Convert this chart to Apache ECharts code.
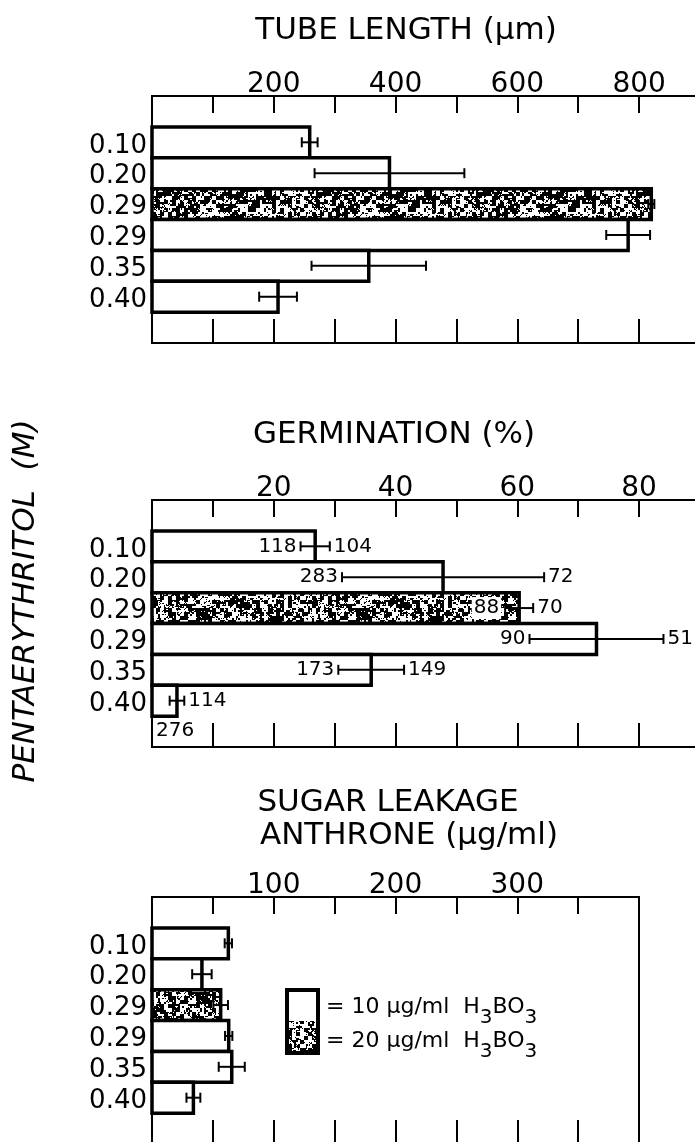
<!DOCTYPE html>
<html>
<head>
<meta charset="utf-8">
<script src="https://cdn.jsdelivr.net/npm/echarts@6/dist/echarts.min.js"></script>
<style>html,body{margin:0;padding:0;background:#fff;}</style>
</head>
<body>
<div id="main" style="width:695px;height:1142px;"></div>
<script type="text/javascript">
// pentaerythritol rows, top to bottom
var rowLabels = ['0.10', '0.20', '0.29', '0.29', '0.35', '0.40'];
// H3BO3 level of each row (ug/ml); 20 = stippled bar
var boron = [10, 10, 20, 10, 10, 10];

var tubeLength = [259, 390, 820, 782, 356, 207];
var tubeErr = [13, 123, 5, 36, 94, 31];

var germination = [26.8, 47.8, 60.3, 73.0, 36.0, 4.1];
var germErr = [2.4, 16.6, 2.3, 11.0, 5.4, 1.2];
var germLeftNum = ['118', '283', '88', '90', '173', '276'];
var germRightNum = ['104', '72', '70', '51', '149', '114'];

var sugar = [62.7, 41.0, 56.4, 63.0, 65.5, 34.0];
var sugarErr = [3, 8, 6, 3, 10.7, 5.7];

var tubeTicks = [200, 400, 600, 800];
var germTicks = [20, 40, 60, 80];
var sugarTicks = [100, 200, 300];

var FONT = 'DejaVu Sans';

// one empty slot above and below the six bars
var slotLabels = [''].concat(rowLabels, ['']);
var slotKeys = slotLabels.map(function (s, i) { return 'c' + i; });

// stipple texture for the 20 ug/ml bars
function makeStipple() {
    var W = 160, H = 64;
    var c = document.createElement('canvas');
    c.width = W; c.height = H;
    var ctx = c.getContext('2d');
    var seed = 9876;
    function rnd() { seed = (seed * 16807) % 2147483647; return seed / 2147483647; }
    var cw = W / 4, ch = H / 4, fw = W / 2, fh = H / 2;
    var coarse = [], fine = [];
    for (var i = 0; i < cw * ch; i++) coarse.push(rnd());
    for (var j = 0; j < fw * fh; j++) fine.push(rnd());
    var img = ctx.createImageData(W, H);
    for (var y = 0; y < H; y++) {
        for (var x = 0; x < W; x++) {
            var v = 0.5 * coarse[Math.floor(y / 4) * cw + Math.floor(x / 4)] +
                    0.35 * fine[Math.floor(y / 2) * fw + Math.floor(x / 2)] + 0.15 * rnd();
            var w = v > 0.55 ? 255 : 0;
            var p = (y * W + x) * 4;
            img.data[p] = w; img.data[p + 1] = w; img.data[p + 2] = w; img.data[p + 3] = 255;
        }
    }
    ctx.putImageData(img, 0, 0);
    return c;
}
var stipple = {image: makeStipple(), repeat: 'repeat'};

var measureCtx = document.createElement('canvas').getContext('2d');
function textWidth(t, size) {
    measureCtx.font = size + 'px "' + FONT + '"';
    return measureCtx.measureText(t).width;
}

function xAxes(gi, max, interval, labels) {
    return [{
        type: 'value', gridIndex: gi, position: 'top', min: 0, max: max, interval: interval,
        axisLine: {show: false}, splitLine: {show: false},
        axisTick: {show: true, inside: true, length: 17, lineStyle: {color: '#000', width: 2}},
        axisLabel: {
            margin: -3, fontSize: 28, fontFamily: FONT, color: '#000',
            formatter: function (v) { return labels.indexOf(v) >= 0 ? String(v) : ''; }
        }
    }, {
        type: 'value', gridIndex: gi, position: 'bottom', min: 0, max: max, interval: interval,
        axisLine: {show: false}, splitLine: {show: false},
        axisTick: {show: true, inside: true, length: 24, lineStyle: {color: '#000', width: 2}},
        axisLabel: {show: false}
    }];
}

function yAxis(gi) {
    return {
        type: 'category', gridIndex: gi, inverse: true, data: slotKeys,
        axisLine: {show: false}, axisTick: {show: false}, splitLine: {show: false},
        axisLabel: {
            interval: 0, margin: 5, fontSize: 26, fontFamily: FONT, color: '#000',
            verticalAlign: 'top', lineHeight: 7,
            formatter: function (v, i) { return slotLabels[i]; }
        }
    };
}

// bars drawn edge to edge so neighbouring rows share one thick border
function barSeries(gi, values) {
    var data = values.map(function (v, i) { return [v, i + 1]; });
    return {
        type: 'custom', xAxisIndex: gi * 2, yAxisIndex: gi, silent: true, z: 2,
        data: data,
        renderItem: function (params, api) {
            var i = params.dataIndex;
            var p0 = api.coord([0, api.value(1)]);
            var p1 = api.coord([api.value(0), api.value(1)]);
            var band = api.size([0, 1])[1];
            return {
                type: 'rect',
                shape: {x: p0[0], y: p0[1] - band / 2, width: p1[0] - p0[0], height: band},
                style: {fill: boron[i] === 20 ? stipple : '#fff', stroke: '#000', lineWidth: 3.5}
            };
        }
    };
}

function errSeries(gi, values, errs, leftTxt, rightTxt) {
    var data = values.map(function (v, i) { return [v, i + 1, errs[i]]; });
    var f = '20px "' + FONT + '"';
    return {
        type: 'custom', xAxisIndex: gi * 2, yAxisIndex: gi, silent: true, z: 5,
        data: data,
        renderItem: function (params, api) {
            var i = params.dataIndex;
            var v = api.value(0), idx = api.value(1), e = api.value(2);
            var lo = api.coord([v - e, idx]);
            var hi = api.coord([v + e, idx]);
            var y = lo[1];
            var band = api.size([0, 1])[1];
            var cs = params.coordSys;
            var ln = {stroke: '#000', lineWidth: 2};
            var kids = [
                {type: 'line', shape: {x1: lo[0], y1: y, x2: hi[0], y2: y}, style: ln},
                {type: 'line', shape: {x1: lo[0], y1: y - 5, x2: lo[0], y2: y + 5}, style: ln},
                {type: 'line', shape: {x1: hi[0], y1: y - 5, x2: hi[0], y2: y + 5}, style: ln}
            ];
            if (leftTxt) {
                var lt = leftTxt[i];
                var w = textWidth(lt, 20);
                if (lo[0] - 4 - w > cs.x + 4) {
                    kids.push({type: 'text', style: {
                        text: lt, x: lo[0] - 4, y: y, align: 'right', verticalAlign: 'middle',
                        font: f, fill: '#000',
                        backgroundColor: boron[i] === 20 ? '#fff' : null,
                        padding: boron[i] === 20 ? [1, 2, 1, 2] : 0
                    }});
                } else {
                    // no room left of the bar: number goes under it
                    kids.push({type: 'text', style: {
                        text: lt, x: cs.x + 4, y: y + band / 2 + 15, align: 'left', verticalAlign: 'middle',
                        font: f, fill: '#000'
                    }});
                }
            }
            if (rightTxt) {
                kids.push({type: 'text', style: {
                    text: rightTxt[i], x: hi[0] + 4, y: y, align: 'left', verticalAlign: 'middle',
                    font: f, fill: '#000'
                }});
            }
            return {type: 'group', children: kids};
        }
    };
}

var gridBase = {show: true, borderColor: '#000', borderWidth: 2, backgroundColor: '#fff', outerBoundsMode: 'none', containLabel: false};

var myChart = echarts.init(document.getElementById('main'), null, {renderer: 'canvas'});

var option = {
    animation: false,
    backgroundColor: '#fff',
    grid: [
        Object.assign({left: 152, top: 96, width: 548, height: 247}, gridBase),
        Object.assign({left: 152, top: 500, width: 548, height: 247}, gridBase),
        Object.assign({left: 152, top: 897, width: 487, height: 247}, gridBase)
    ],
    xAxis: [].concat(
        xAxes(0, 900, 100, tubeTicks),
        xAxes(1, 90, 10, germTicks),
        xAxes(2, 400, 50, sugarTicks)
    ),
    yAxis: [yAxis(0), yAxis(1), yAxis(2)],
    series: [
        barSeries(0, tubeLength),
        errSeries(0, tubeLength, tubeErr),
        barSeries(1, germination),
        errSeries(1, germination, germErr, germLeftNum, germRightNum),
        barSeries(2, sugar),
        errSeries(2, sugar, sugarErr)
    ],
    graphic: [
        {type: 'text', x: 406, y: 31, style: {text: 'TUBE LENGTH (\u03bcm)', font: '31px "' + FONT + '"', fill: '#000', align: 'center', verticalAlign: 'middle'}},
        {type: 'text', x: 394, y: 435, style: {text: 'GERMINATION (%)', font: '31px "' + FONT + '"', fill: '#000', align: 'center', verticalAlign: 'middle'}},
        {type: 'text', x: 388, y: 803, style: {text: 'SUGAR LEAKAGE', font: '31px "' + FONT + '"', fill: '#000', align: 'center', verticalAlign: 'middle'}},
        {type: 'text', x: 409, y: 836, style: {text: 'ANTHRONE (\u03bcg/ml)', font: '31px "' + FONT + '"', fill: '#000', align: 'center', verticalAlign: 'middle'}},
        {type: 'text', x: 26, y: 601, rotation: Math.PI / 2, style: {text: 'PENTAERYTHRITOL  (M)', font: 'italic 31px "' + FONT + '"', fill: '#000', align: 'center', verticalAlign: 'middle'}},
        // legend key
        {type: 'rect', shape: {x: 287, y: 990, width: 31, height: 31}, style: {fill: '#fff'}},
        {type: 'rect', shape: {x: 287, y: 1021, width: 31, height: 32}, style: {fill: stipple}},
        {type: 'rect', shape: {x: 287, y: 990, width: 31, height: 63}, style: {fill: null, stroke: '#000', lineWidth: 4}},
        {type: 'text', x: 326, y: 1007, style: {
            text: '= 10 \u03bcg/ml  H{s|3}BO{s|3}', font: '22px "' + FONT + '"', fill: '#000', verticalAlign: 'middle',
            rich: {s: {fontSize: 20, fontFamily: FONT, padding: [22, 0, 0, 0]}}
        }},
        {type: 'text', x: 326, y: 1041, style: {
            text: '= 20 \u03bcg/ml  H{s|3}BO{s|3}', font: '22px "' + FONT + '"', fill: '#000', verticalAlign: 'middle',
            rich: {s: {fontSize: 20, fontFamily: FONT, padding: [22, 0, 0, 0]}}
        }}
    ]
};

myChart.setOption(option);
</script>
</body>
</html>
